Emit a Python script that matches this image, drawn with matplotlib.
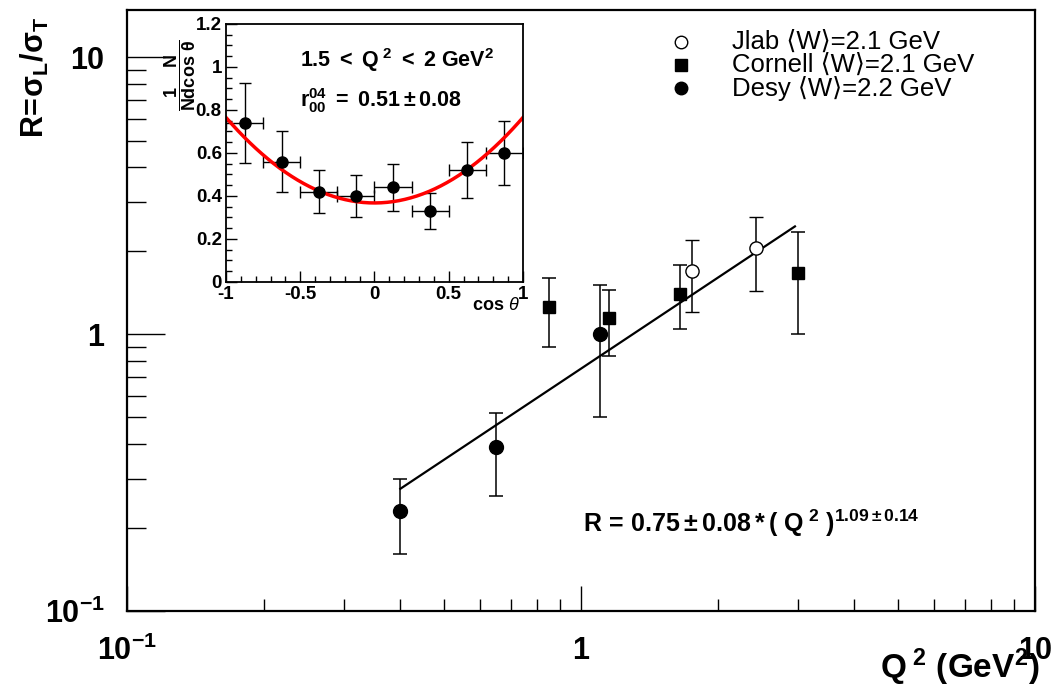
import numpy as np
import matplotlib.pyplot as plt
from matplotlib.ticker import FixedLocator, NullFormatter, MultipleLocator

plt.rcParams['font.family'] = ['Liberation Sans', 'DejaVu Sans']
plt.rcParams['mathtext.fontset'] = 'custom'
plt.rcParams['mathtext.rm'] = 'Liberation Sans'
plt.rcParams['mathtext.it'] = 'Liberation Sans:italic'
plt.rcParams['mathtext.bf'] = 'Liberation Sans:bold'

# R = sigma_L / sigma_T vs Q^2
jlab_q2 = [1.76, 2.43]
jlab_r = [1.69, 2.04]
jlab_lo = [1.20, 1.43]
jlab_hi = [2.18, 2.65]

cornell_q2 = [0.85, 1.15, 1.65, 3.00]
cornell_r = [1.25, 1.14, 1.40, 1.66]
cornell_lo = [0.90, 0.83, 1.04, 1.00]
cornell_hi = [1.59, 1.44, 1.77, 2.33]

desy_q2 = [0.40, 0.65, 1.10]
desy_r = [0.23, 0.39, 1.00]
desy_lo = [0.16, 0.26, 0.50]
desy_hi = [0.30, 0.52, 1.51]

fit_a = 0.75
fit_b = 1.09
fit_range = [0.40, 2.96]

# angular distribution, 1.5 < Q^2 < 2 GeV^2
cos_bins = [-0.875, -0.625, -0.375, -0.125, 0.125, 0.375, 0.625, 0.875]
w_vals = [0.74, 0.56, 0.42, 0.40, 0.44, 0.33, 0.52, 0.60]
w_errs = [0.185, 0.14, 0.10, 0.098, 0.11, 0.083, 0.13, 0.147]
cos_half = 0.125
r0004 = 0.51

fig = plt.figure(figsize=(10.55, 6.94), dpi=100)
ax = fig.add_axes([0.1204, 0.1196, 0.8606, 0.866])
ax.set_xscale('log')
ax.set_yscale('log')
ax.set_xlim(0.1, 10)
ax.set_ylim(0.1, 14.8)

ebar = dict(ecolor='black', elinewidth=1.1, capsize=5, capthick=1.1, linestyle='none')


def asym(vals, lo, hi):
    v = np.array(vals)
    return [v - np.array(lo), np.array(hi) - v]


ax.errorbar(desy_q2, desy_r, yerr=asym(desy_r, desy_lo, desy_hi), marker='o',
            ms=10, mfc='black', mec='black', **ebar)
ax.errorbar(cornell_q2, cornell_r, yerr=asym(cornell_r, cornell_lo, cornell_hi), marker='s',
            ms=9, mfc='black', mec='black', **ebar)
ax.errorbar(jlab_q2, jlab_r, yerr=asym(jlab_r, jlab_lo, jlab_hi), marker='o',
            ms=9.5, mfc='white', mec='black', mew=1.0, **ebar)

q = np.geomspace(fit_range[0], fit_range[1], 50)
ax.plot(q, fit_a * q ** fit_b, color='black', lw=1.6)

# legend drawn by hand, ROOT style
leg_y = [0.947, 0.908, 0.870]
leg_txt = ['Jlab \u27e8W\u27e9=2.1 GeV', 'Cornell \u27e8W\u27e9=2.1 GeV', 'Desy \u27e8W\u27e9=2.2 GeV']
ax.plot(0.61, leg_y[0], 'o', ms=9, mfc='white', mec='black', mew=1.0, transform=ax.transAxes)
ax.plot(0.61, leg_y[1], 's', ms=8.5, mfc='black', mec='black', transform=ax.transAxes)
ax.plot(0.61, leg_y[2], 'o', ms=9, mfc='black', mec='black', transform=ax.transAxes)
for yy, t in zip(leg_y, leg_txt):
    ax.text(0.666, yy, t, transform=ax.transAxes, fontsize=18.5, va='center', ha='left')

ax.text(0.502, 0.131, r'$\mathbf{R\,=\,0.75 \pm 0.08*(\ Q^{\ 2}\ )^{1.09 \pm 0.14}}$',
        transform=ax.transAxes, fontsize=18, ha='left', va='baseline')

ax.xaxis.set_major_locator(FixedLocator([0.1, 1, 10]))
ax.yaxis.set_major_locator(FixedLocator([0.1, 1, 10]))
ax.set_xticklabels([r'$\mathbf{10^{-1}}$', r'$\mathbf{1}$', r'$\mathbf{10}$'])
ax.set_yticklabels([r'$\mathbf{10^{-1}}$', r'$\mathbf{1}$', r'$\mathbf{10}$'])
ax.xaxis.set_minor_formatter(NullFormatter())
ax.yaxis.set_minor_formatter(NullFormatter())
ax.tick_params(which='both', direction='in', top=False, right=False, labelsize=22, width=1.0)
ax.tick_params(axis='x', which='major', length=18, pad=18)
ax.tick_params(axis='x', which='minor', length=9)
ax.tick_params(axis='y', which='major', length=27, pad=16)
ax.tick_params(axis='y', which='minor', length=14)
for s in ax.spines.values():
    s.set_linewidth(1.6)

fig.text(0.985, 0.008, r'$\mathbf{Q^{\ 2}\ (GeV^{2})}$', fontsize=24, ha='right', va='bottom')
fig.text(0.033, 0.975, r'$\mathbf{R\!=\!σ_{L}/σ_{T}}$', fontsize=22, ha='center', va='top',
         rotation=90)

# inset
ins = fig.add_axes([0.2142, 0.5937, 0.2815, 0.3718])
ins.set_xlim(-1, 1)
ins.set_ylim(0, 1.2)
ins.errorbar(cos_bins, w_vals, xerr=cos_half, yerr=w_errs, fmt='o', ms=8,
             mfc='black', mec='black', ecolor='black', elinewidth=1.0, capsize=4, capthick=1.0)
c = np.linspace(-1, 1, 200)
ins.plot(c, 0.75 * ((1 - r0004) + (3 * r0004 - 1) * c ** 2), color='red', lw=2.5)
ins.xaxis.set_minor_locator(MultipleLocator(0.1))
ins.yaxis.set_minor_locator(MultipleLocator(0.05))
ins.set_xticks([-1, -0.5, 0, 0.5, 1])
ins.set_xticklabels(['-1', '-0.5', '0', '0.5', '1'], fontweight='bold')
ins.set_yticks([0, 0.2, 0.4, 0.6, 0.8, 1.0, 1.2])
ins.set_yticklabels(['0', '0.2', '0.4', '0.6', '0.8', '1', '1.2'], fontweight='bold')
ins.tick_params(which='both', direction='in', top=False, right=False, labelsize=13.5, width=1.0, pad=3)
ins.tick_params(which='major', length=8)
ins.tick_params(which='minor', length=4)
for s in ins.spines.values():
    s.set_linewidth(1.3)
ins.text(0.25, 0.86, r'$\mathbf{1.5\ <\ Q^{\ 2}\ <\ 2\ GeV^{2}}$', transform=ins.transAxes,
         fontsize=15.5, ha='left', va='center')
ins.text(0.25, 0.705, r'$\mathbf{r^{04}_{00}\ =\ 0.51 \pm 0.08}$', transform=ins.transAxes,
         fontsize=15.5, ha='left', va='center')
ins.text(0.99, -0.09, r'$\mathbf{cos}\ θ$', transform=ins.transAxes, fontsize=13,
         ha='right', va='center')
ins.text(-0.155, 0.80, r'$\mathbf{\dfrac{1\quad\ N}{Ndcos\ θ}}$', transform=ins.transAxes,
         fontsize=13, ha='center', va='center', rotation=90)

fig.savefig('out.png', dpi=100)
